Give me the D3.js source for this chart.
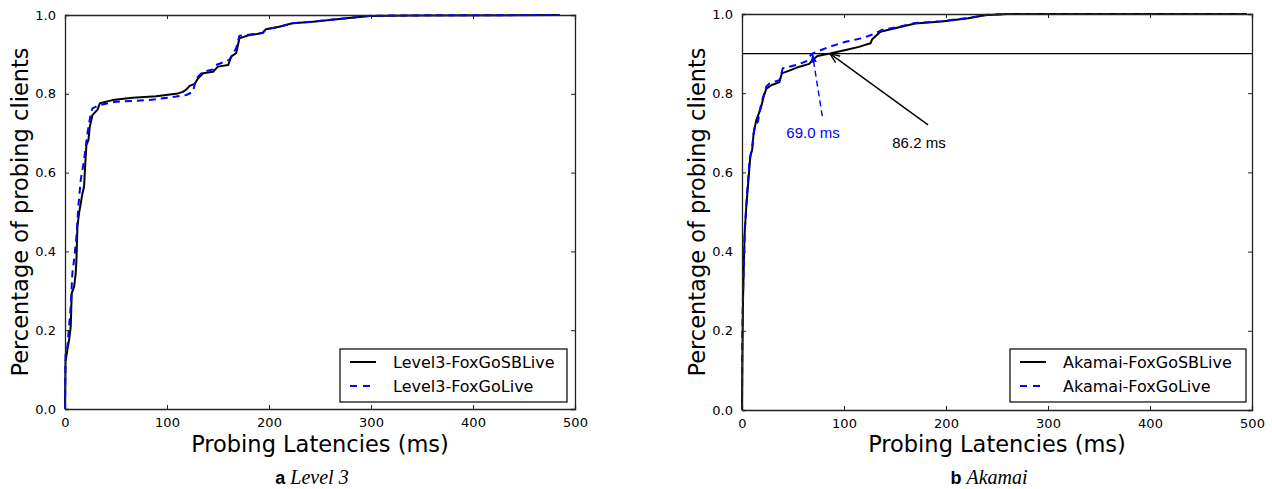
<!DOCTYPE html>
<html>
<head>
<meta charset="utf-8">
<script src="https://cdn.jsdelivr.net/npm/d3@7"></script>
<style>
  html, body { margin: 0; padding: 0; background: #fff; }
  svg { display: block; }
</style>
</head>
<body>
<svg id="chart" width="1272" height="489"></svg>
<script>
// ---------- DATA ----------
const xTicks = [0, 100, 200, 300, 400, 500];
const yTicks = [0.0, 0.2, 0.4, 0.6, 0.8, 1.0];

// Panel a: Level 3  [latency ms, cumulative fraction]
const level3SB = [[0,0],[0.5,0.12],[2.3,0.15],[4,0.175],[5.6,0.209],[6.6,0.294],[8.9,0.31],[10.5,0.344],[11.2,0.378],[12.2,0.463],[13.8,0.497],[17.1,0.547],[18.7,0.564],[19.7,0.615],[21,0.67],[23,0.683],[24.3,0.716],[26.9,0.746],[31.9,0.76],[34.2,0.776],[46.6,0.784],[66.3,0.79],[89.3,0.794],[110.7,0.801],[115.6,0.805],[118.9,0.811],[122.2,0.82],[127,0.825],[130.4,0.839],[135.3,0.852],[145.2,0.856],[150,0.869],[160,0.873],[163,0.895],[167.8,0.903],[171,0.941],[180.8,0.949],[193.8,0.954],[197,0.964],[210,0.97],[223,0.979],[243,0.983],[276,0.992],[299,0.9975],[341,0.999],[485,1.0]];
const level3Go = [[0,0],[0.5,0.14],[2.3,0.158],[4,0.209],[5.6,0.26],[7.2,0.344],[8.9,0.378],[11.2,0.437],[13.1,0.514],[15.4,0.581],[18.7,0.632],[22,0.70],[25.3,0.75],[26.9,0.763],[33.5,0.771],[50,0.78],[82.8,0.784],[109,0.793],[118.9,0.797],[125.4,0.805],[128.7,0.839],[135.3,0.856],[145,0.862],[148,0.873],[161,0.886],[164.5,0.899],[167.8,0.916],[171,0.947],[193.8,0.955],[197,0.964],[210,0.97],[223,0.979],[243,0.983],[276,0.992],[299,0.998],[341,0.999],[485,1.0]];

// Panel b: Akamai
const akamaiSB = [[0,0],[0.3,0.109],[1,0.278],[1.6,0.345],[2.6,0.446],[4.2,0.514],[5.8,0.564],[8.1,0.64],[10,0.657],[11.4,0.699],[14,0.732],[16.6,0.749],[18.8,0.766],[21.1,0.79],[23.7,0.811],[28.6,0.82],[36.7,0.828],[39,0.85],[46.4,0.857],[56.2,0.867],[66,0.874],[69,0.884],[74,0.894],[86.2,0.9],[101.6,0.909],[114.6,0.917],[126,0.926],[127.6,0.936],[135.7,0.955],[150,0.964],[169.8,0.976],[195.8,0.981],[221.8,0.989],[238,0.997],[260,1.0],[495,1.0]];
const akamaiGo = [[0,0],[0.3,0.194],[1,0.295],[2.6,0.446],[4.9,0.547],[7.5,0.631],[10,0.665],[12.3,0.715],[15.6,0.728],[18.8,0.774],[23.7,0.816],[27,0.825],[36.7,0.833],[40,0.863],[53,0.871],[62.7,0.88],[66,0.892],[69,0.9],[85.4,0.917],[101.6,0.93],[117.9,0.939],[130.8,0.951],[137.3,0.96],[150,0.966],[169.8,0.977],[195.8,0.982],[221.8,0.99],[240,0.998],[260,1.0],[495,1.0]];

const level3Labels = ["Level3-FoxGoSBLive", "Level3-FoxGoLive"];
const akamaiLabels = ["Akamai-FoxGoSBLive", "Akamai-FoxGoLive"];
const xLabel = "Probing Latencies (ms)";
const yLabel = "Percentage of probing clients";

// Akamai annotations: [point x, point y, tail x, tail y, text x, text y, label]
const akamaiRef = 0.9;
const annotGo = [69.0, 0.9, 78.7, 0.742, 69.6, 0.687, "69.0 ms"];
const annotSB = [86.2, 0.9, 182.4, 0.72, 173.5, 0.662, "86.2 ms"];

// ---------- DRAW ----------
const svg = d3.select("#chart");
const defs = svg.append("defs");
defs.append("marker").attr("id","headBlue").attr("viewBox","0 0 10 10")
  .attr("refX",10).attr("refY",5).attr("markerWidth",9).attr("markerHeight",9)
  .attr("markerUnits","userSpaceOnUse").attr("orient","auto")
  .append("path").attr("d","M0,1.5 L10,5 L0,8.5 Z").attr("fill","#0000ff");
defs.append("marker").attr("id","headBlack").attr("viewBox","0 0 10 10")
  .attr("refX",10).attr("refY",5).attr("markerWidth",10).attr("markerHeight",10)
  .attr("markerUnits","userSpaceOnUse").attr("orient","auto")
  .append("path").attr("d","M0,1 L10,5 L0,9").attr("fill","none").attr("stroke","#000").attr("stroke-width",1.4);

function panel(cfg) {
  const x = d3.scaleLinear().domain([0, 500]).range([cfg.x0, cfg.x1]);
  const y = d3.scaleLinear().domain([0, 1]).range([cfg.y0, cfg.y1]);
  const g = svg.append("g");

  const line = d3.line().x(d => x(d[0])).y(d => y(d[1]));

  if (cfg.ref !== undefined) {
    g.append("line").attr("x1", x(0)).attr("x2", x(500)).attr("y1", y(cfg.ref)).attr("y2", y(cfg.ref))
      .attr("stroke", "#000").attr("stroke-width", 1.2);
  }

  g.append("path").datum(cfg.sb).attr("d", line).attr("fill","none")
    .attr("stroke","#000").attr("stroke-width",2).attr("stroke-linejoin","round");
  g.append("path").datum(cfg.go).attr("d", line).attr("fill","none")
    .attr("stroke","#0000ff").attr("stroke-width",2).attr("stroke-dasharray","7,5");

  // axes with inward ticks
  const fmtY = d3.format(".1f");
  const axB = g.append("g").attr("transform",`translate(0,${cfg.y0})`)
    .call(d3.axisBottom(x).tickValues(xTicks).tickSize(-4).tickPadding(9).tickFormat(d3.format("d")));
  const axT = g.append("g").attr("transform",`translate(0,${cfg.y1})`)
    .call(d3.axisTop(x).tickValues(xTicks).tickSize(-4).tickFormat(""));
  const axL = g.append("g").attr("transform",`translate(${cfg.x0},0)`)
    .call(d3.axisLeft(y).tickValues(yTicks).tickSize(-4).tickPadding(9).tickFormat(fmtY));
  const axR = g.append("g").attr("transform",`translate(${cfg.x1},0)`)
    .call(d3.axisRight(y).tickValues(yTicks).tickSize(-4).tickFormat(""));
  [axB, axT, axL, axR].forEach(a => {
    a.select(".domain").attr("stroke","#222").attr("stroke-width",1.3);
    a.selectAll(".tick line").attr("stroke","#222").attr("stroke-width",1);
    a.selectAll("text").attr("font-family","DejaVu Sans").attr("font-size",13).attr("fill","#000");
  });

  // axis labels
  g.append("text").attr("x",(cfg.x0+cfg.x1)/2).attr("y",451.5).attr("text-anchor","middle")
    .attr("font-family","DejaVu Sans").attr("font-size",22.5).attr("fill","#000").text(xLabel);
  g.append("text").attr("transform",`translate(${cfg.x0-37},${(cfg.y0+cfg.y1)/2}) rotate(-90)`)
    .attr("text-anchor","middle").attr("font-family","DejaVu Sans").attr("font-size",22.5)
    .attr("fill","#000").text(yLabel);

  // legend
  const lg = g.append("g");
  lg.append("rect").attr("x",cfg.legX).attr("y",349).attr("width",cfg.legW).attr("height",53)
    .attr("fill","#fff").attr("stroke","#000").attr("stroke-width",1.2);
  const rows = [{c:"#000",d:null},{c:"#0000ff",d:"7,6"}];
  rows.forEach((r,i) => {
    const yy = 362 + i*24;
    lg.append("line").attr("x1",cfg.legX+10).attr("x2",cfg.legX+36).attr("y1",yy).attr("y2",yy)
      .attr("stroke",r.c).attr("stroke-width",2).attr("stroke-dasharray",r.d);
    lg.append("text").attr("x",cfg.legX+53).attr("y",yy).attr("dy","0.36em")
      .attr("font-family","DejaVu Sans").attr("font-size",16).attr("fill","#000").text(cfg.labels[i]);
  });

  // caption
  const cap = g.append("text").attr("x",cfg.capX).attr("y",484).attr("text-anchor","middle").attr("fill","#000")
    .style("font-family","'Liberation Serif', serif");
  cap.append("tspan").style("font-family","'Liberation Sans', Arial, sans-serif").style("font-weight","bold")
    .style("font-size","18px").text(cfg.capA);
  cap.append("tspan").style("font-family","'Liberation Serif', serif").style("font-style","italic")
    .style("font-size","20px").text("\u00a0" + cfg.capB);

  return {g, x, y};
}

panel({x0:65, x1:575, y0:409, y1:15, sb:level3SB, go:level3Go, labels:level3Labels,
  legX:340, legW:227, capX:312, capA:"a", capB:"Level 3"});

const pb = panel({x0:742, x1:1252, y0:410, y1:14, sb:akamaiSB, go:akamaiGo, labels:akamaiLabels,
  legX:1010, legW:236, capX:989, capA:"b", capB:"Akamai", ref:akamaiRef});

// annotations
[[annotGo,"#0000ff","6,4","url(#headBlue)"],[annotSB,"#000",null,"url(#headBlack)"]].forEach(([a,c,d,m]) => {
  pb.g.append("line").attr("x1",pb.x(a[2])).attr("y1",pb.y(a[3])).attr("x2",pb.x(a[0])).attr("y2",pb.y(a[1]))
    .attr("stroke",c).attr("stroke-width",1.4).attr("stroke-dasharray",d).attr("marker-end",m);
  pb.g.append("text").attr("x",pb.x(a[4])).attr("y",pb.y(a[5])).attr("text-anchor","middle")
    .attr("font-family","Liberation Sans").attr("font-size",15).attr("fill",c).text(a[6]);
});
</script>
</body>
</html>
